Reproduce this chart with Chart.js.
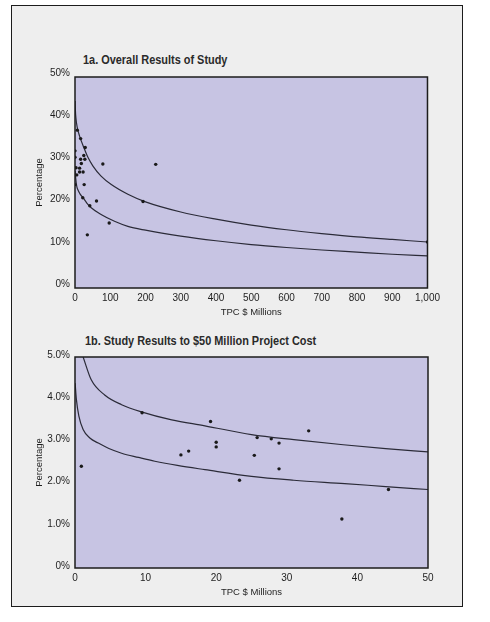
<!DOCTYPE html>
<html>
<head>
<meta charset="utf-8">
<script src="https://cdn.jsdelivr.net/npm/chart.js@4"></script>
<style>
  body { margin: 0; background: #ffffff; width: 490px; height: 622px; position: relative; overflow: hidden; }
  #frame { position: absolute; left: 11px; top: 5px; width: 452px; height: 602px; box-sizing: border-box;
           border: 1.5px solid #1c1c1c; background: #eeeeee; }
  .ttl { position: absolute; font-family: "Liberation Sans Narrow", "Liberation Sans", Arial, sans-serif;
         font-weight: bold; font-size: 12px; color: #2a2a2a; white-space: nowrap; line-height: 14px;
         transform: scaleX(0.91); transform-origin: left center; }
  .box { position: absolute; left: 20px; }
</style>
</head>
<body>
<div id="frame"></div>
<div class="ttl" style="left:83px; top:53px;">1a. Overall Results of Study</div>
<div class="ttl" style="left:85px; top:334px;">1b. Study Results to $50 Million Project Cost</div>
<div class="box" style="top:64px; width:424px; height:256px;"><canvas id="chartA" width="424" height="256"></canvas></div>
<div class="box" style="top:345px; width:420px; height:255px;"><canvas id="chartB" width="420" height="255"></canvas></div>

<script>
/* ---------- 1a: all projects (TPC $ millions, %) ---------- */
const costA = [0, 0, 6.5, 16, 29, 25, 16, 28, 18, 79, 229, 13, 3, 13, 23, 5, 0, 26, 22, 61, 42, 193, 97, 35, 1000];
const pctA  = [32.5, 31.0, 37.4, 35.4, 33.3, 31.4, 30.5, 30.5, 29.5, 29.4, 29.3, 28.4, 28.5, 27.5, 27.5, 26.8, 24.5, 24.5, 21.4, 20.6, 19.5, 20.5, 15.4, 12.6, 10.9];

const upperCostA = [0.5, 1, 3, 6.5, 13, 25, 37, 51, 74, 103, 150, 200, 300, 400, 500, 600, 700, 800, 900, 1000];
const upperPctA  = [44.3, 42.4, 40.0, 38.0, 36.0, 33.3, 30.9, 28.9, 26.5, 24.5, 22.2, 20.4, 18.0, 16.3, 14.9, 13.8, 12.9, 12.1, 11.5, 10.9];

const lowerCostA = [0.5, 2, 5, 8.5, 15, 23, 33, 46, 74, 112, 150, 200, 300, 400, 500, 600, 700, 800, 900, 1000];
const lowerPctA  = [27.8, 26.0, 24.1, 23.2, 22.2, 21.4, 20.2, 19.0, 17.4, 15.8, 14.6, 13.7, 12.3, 11.2, 10.3, 9.6, 9.0, 8.5, 8.0, 7.6];

const xTicksA = ["0", "100", "200", "300", "400", "500", "600", "700", "800", "900", "1,000"];
const yTicksA = ["0%", "10%", "20%", "30%", "40%", "50%"];

/* ---------- 1b: projects up to $50 million ---------- */
const costB = [0.9, 9.5, 15.0, 16.1, 19.2, 20.0, 20.0, 23.3, 25.4, 25.8, 27.8, 28.9, 28.9, 33.1, 37.8, 44.4];
const pctB  = [2.41, 3.68, 2.68, 2.77, 3.47, 2.98, 2.87, 2.08, 2.67, 3.09, 3.06, 2.96, 2.35, 3.25, 1.16, 1.86];

const upperCostB = [1.15, 2.3, 4.2, 6.6, 9.4, 13.7, 18.4, 25, 31, 38, 44, 50];
const upperPctB  = [5.0, 4.46, 4.1, 3.87, 3.70, 3.51, 3.37, 3.16, 3.04, 2.92, 2.83, 2.75];

const lowerCostB = [0.02, 0.2, 0.55, 1.15, 2.1, 3.3, 4.8, 6.6, 9, 11.3, 14.5, 18.4, 25, 31, 38.2, 44, 50];
const lowerPctB  = [4.38, 3.99, 3.6, 3.28, 3.08, 2.96, 2.83, 2.72, 2.62, 2.53, 2.43, 2.33, 2.17, 2.08, 2.0, 1.93, 1.86];

const xTicksB = ["0", "10", "20", "30", "40", "50"];
const yTicksB = ["0%", "1.0%", "2.0%", "3.0%", "4.0%", "5.0%"];

/* ---------- shared look ---------- */
Chart.defaults.font.family = '"Liberation Sans Narrow", "Liberation Sans", Arial, sans-serif';
Chart.defaults.font.size = 10;
Chart.defaults.color = "#1e1e1e";

const plotBox = {
  id: "plotBox",
  beforeDraw(chart) {
    const { ctx, chartArea: a } = chart;
    ctx.save();
    ctx.fillStyle = "#c7c4e3";
    ctx.fillRect(a.left, a.top, a.width, a.height);
    ctx.restore();
  },
  afterDraw(chart) {
    const { ctx, chartArea: a } = chart;
    ctx.save();
    ctx.strokeStyle = "#1c1c1c";
    ctx.lineWidth = 1.5;
    ctx.strokeRect(a.left, a.top, a.width, a.height);
    ctx.restore();
  }
};

function pts(xs, ys) {
  return xs.map((x, i) => ({ x: x, y: ys[i] }));
}

function curve(xs, ys) {
  return {
    data: pts(xs, ys),
    showLine: true,
    borderColor: "#2b2b38",
    borderWidth: 1.2,
    pointRadius: 0,
    cubicInterpolationMode: "monotone"
  };
}

function makeChart(id, d) {
  return new Chart(document.getElementById(id), {
    type: "scatter",
    data: {
      datasets: [
        { data: pts(d.cost, d.pct), pointRadius: 1.7, pointBackgroundColor: "#1a1a1a", pointBorderWidth: 0 },
        curve(d.upX, d.upY),
        curve(d.loX, d.loY)
      ]
    },
    options: {
      responsive: false,
      animation: false,
      layout: { padding: { top: d.padTop, right: 12, bottom: 0, left: 0 } },
      plugins: { legend: { display: false }, tooltip: { enabled: false } },
      scales: {
        x: {
          min: 0, max: d.xMax,
          grid: { display: false, drawTicks: false },
          border: { display: false },
          ticks: { stepSize: d.xStep, autoSkip: false, maxRotation: 0, padding: 4,
                   callback: (v, i) => d.xTicks[i] },
          title: { display: true, text: "TPC $ Millions", font: { size: 9.5 }, padding: { top: 0, bottom: 2 } },
          afterFit: s => { s.height = 32; }
        },
        y: {
          min: 0, max: d.yMax,
          grid: { display: false, drawTicks: false },
          border: { display: false },
          ticks: { stepSize: d.yStep, padding: 5, labelOffset: d.yLabelShift,
                   callback: (v, i) => d.yTicks[i] },
          title: { display: true, text: "Percentage", font: { size: 9.5 }, padding: { top: 14, bottom: 0 } },
          afterFit: s => { s.width = 55; }
        }
      }
    },
    plugins: [plotBox]
  });
}

makeChart("chartA", {
  cost: costA, pct: pctA, upX: upperCostA, upY: upperPctA, loX: lowerCostA, loY: lowerPctA,
  xMax: 1000, xStep: 100, yMax: 50, yStep: 10, xTicks: xTicksA, yTicks: yTicksA,
  padTop: 13, yLabelShift: -4
});

makeChart("chartB", {
  cost: costB, pct: pctB, upX: upperCostB, upY: upperPctB, loX: lowerCostB, loY: lowerPctB,
  xMax: 50, xStep: 10, yMax: 5, yStep: 1, xTicks: xTicksB, yTicks: yTicksB,
  padTop: 12, yLabelShift: -2
});
</script>
</body>
</html>
